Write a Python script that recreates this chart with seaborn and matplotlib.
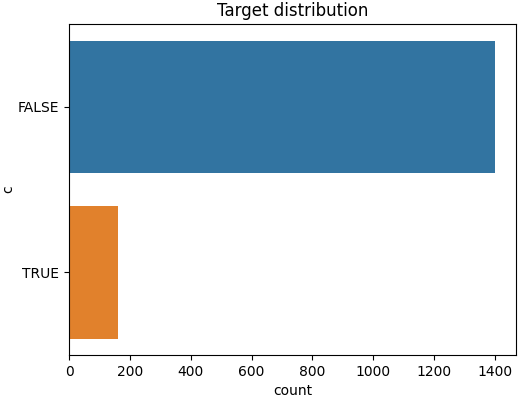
import pandas as pd
import seaborn as sns
import matplotlib.pyplot as plt

categories = ['FALSE', 'TRUE']
counts = [1400, 162]

df = pd.DataFrame({'c': categories, 'count': counts})

fig, ax = plt.subplots(figsize=(5.24, 4), dpi=100)
sns.barplot(x='count', y='c', data=df, hue='c', palette=['#1f77b4', '#ff7f0e'],
            saturation=0.75, legend=False, ax=ax)
ax.set_title('Target distribution')
fig.subplots_adjust(left=0.132, right=0.985, top=0.94, bottom=0.112)
ax.yaxis.labelpad = 2
fig.savefig('out.png')
